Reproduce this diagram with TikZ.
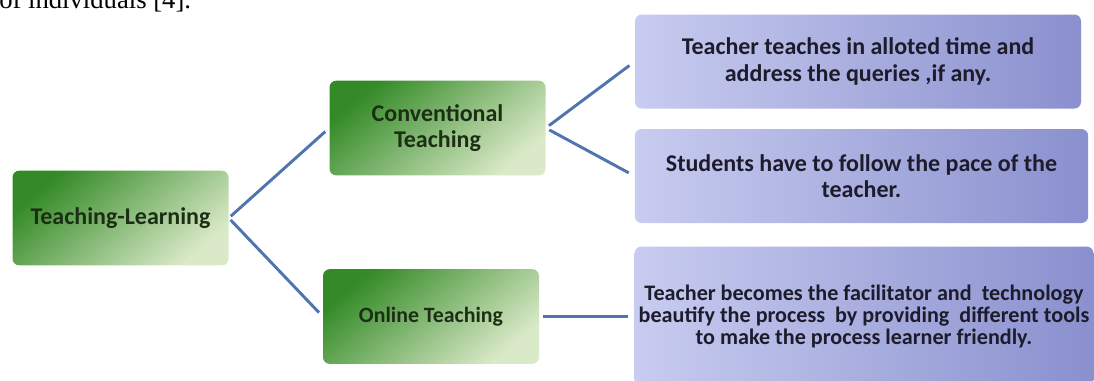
\documentclass[tikz,border=0pt]{standalone}
\usepackage{fontspec}
\setmainfont{Carlito}
\newfontfamily\pagefont{Liberation Serif}
\definecolor{gdark}{HTML}{338A26}
\definecolor{glight}{HTML}{DAE9C8}
\definecolor{gtext}{HTML}{1C2E14}
\definecolor{bleft}{HTML}{C8CCF0}
\definecolor{bmid}{HTML}{E3E5FA}
\definecolor{bright}{HTML}{8A90CE}
\definecolor{btext}{HTML}{1C1C2C}
\definecolor{linkblue}{HTML}{4F74B0}
\begin{document}
\begin{tikzpicture}[x=0.75pt, y=-0.75pt,
    greenbox/.style={rounded corners=5pt, top color=gdark, bottom color=glight, shading angle=40,
      text=gtext, font=\bfseries\fontsize{18}{19}\selectfont, align=center, inner sep=0pt,
      minimum width=162pt, minimum height=71pt},
    bluebox/.style={rounded corners=5pt, left color=bleft, middle color=bmid, right color=bright,
      text=btext, font=\bfseries\fontsize{18}{20}\selectfont, align=center, inner sep=0pt},
    link/.style={draw=linkblue, line width=2.2pt}]
  \useasboundingbox (0,0) rectangle (1094,380);

  % line of the page above the figure, cut by the crop
  \node[anchor=base west, inner sep=0pt, font=\pagefont\fontsize{20}{22}\selectfont] (pageline) at (-1,8) {of individuals [4].};

  \node[greenbox] (tl) at (120.5,218) {Teaching-Learning};
  \node[greenbox] (ct) at (437.5,128) {Conventional\\Teaching};
  \node[greenbox, font=\bfseries\fontsize{16.4}{18}\selectfont] (ot) at (431,316.5) {Online Teaching};

  \node[bluebox, minimum width=334.5pt, minimum height=70.5pt] (b1) at (858,61.5) {Teacher teaches in alloted time and\\address the queries ,if any.};
  \node[bluebox, minimum width=340pt, minimum height=70.5pt] (b2) at (861.5,176) {Students have to follow the pace of the\\teacher.};
  \node[bluebox, minimum width=344pt, minimum height=105pt, font=\bfseries\fontsize{16.6}{16.8}\selectfont] (b3) at (864,316.5) {Teacher becomes the facilitator and \ technology\\beautify the process \ by providing \ different tools\\to make the process learner friendly.};

  \draw[link, shorten <=2pt, shorten >=4pt] (tl.east) -- (ct.west);
  \draw[link, shorten <=2pt, shorten >=4pt] (tl.east) -- (ot.west);
  \draw[link, shorten <=3pt, shorten >=5pt] (ct.east) -- (b1.west);
  \draw[link, shorten <=3pt, shorten >=5pt] (ct.east) -- (b2.west);
  \draw[link, shorten <=3pt, shorten >=5pt] (ot.east) -- (b3.west);
\end{tikzpicture}
\end{document}
